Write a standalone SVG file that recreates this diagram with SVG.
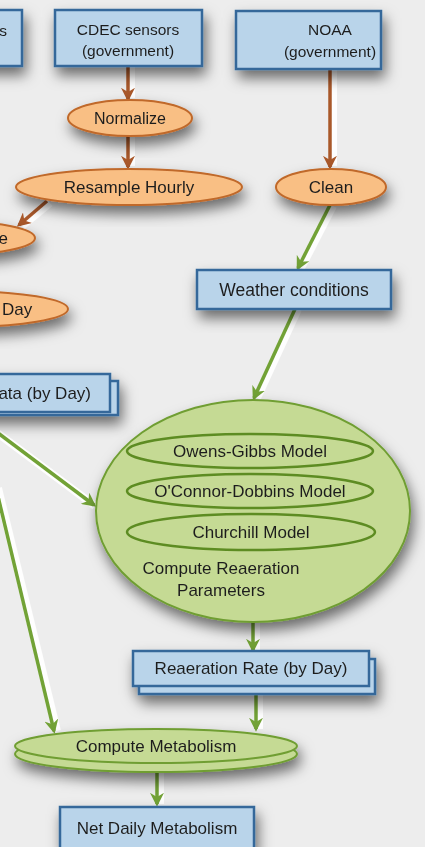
<svg xmlns="http://www.w3.org/2000/svg" width="425" height="847" viewBox="0 0 425 847">
  <defs>
    <filter id="shadow" x="-30%" y="-30%" width="160%" height="190%">
      <feDropShadow dx="3" dy="8" stdDeviation="7" flood-color="#000" flood-opacity="0.55"/>
    </filter>
    <marker id="headBrown" viewBox="0 0 10 10" refX="8" refY="5" markerWidth="4" markerHeight="4" orient="auto" markerUnits="strokeWidth">
      <path d="M0,0 L10,5 L0,10 L3,5 Z" fill="#a9582a"/>
    </marker>
    <marker id="headGreen" viewBox="0 0 10 10" refX="8" refY="5" markerWidth="4" markerHeight="4" orient="auto" markerUnits="strokeWidth">
      <path d="M0,0 L10,5 L0,10 L3,5 Z" fill="#72a236"/>
    </marker>
  </defs>
  <style>
    .box { fill: #b9d4ea; stroke: #35679a; stroke-width: 2.5; }
    .proc { fill: #f9bf84; stroke: #c0692a; stroke-width: 2; }
    .model { fill: #c5da94; stroke: #6f9e33; stroke-width: 2; }
    .inner { fill: #c5da94; stroke: #5d8c22; stroke-width: 2.5; }
    .halo { stroke: #ffffff; stroke-width: 8; stroke-opacity: 0.9; fill: none; }
    .brown { stroke: #a9582a; stroke-width: 3.5; fill: none; marker-end: url(#headBrown); }
    .green { stroke: #72a236; stroke-width: 3.5; fill: none; marker-end: url(#headGreen); }
    text { font-family: "Liberation Sans", Arial, sans-serif; font-size: 17px; fill: #1f1f1f; text-anchor: middle; }
    .sm { font-size: 15.5px; }
    .end { text-anchor: end; }
    .start { text-anchor: start; }
  </style>

  <rect width="425" height="847" fill="#ededed"/>

  <!-- connectors -->
  <g id="connectors">
    <!-- white halos beside each arrow -->
    <line class="halo" x1="131" y1="66" x2="131" y2="98"/>
    <line class="halo" x1="131" y1="136" x2="131" y2="166"/>
    <line class="halo" x1="333" y1="69" x2="333" y2="166"/>
    <line class="halo" x1="50" y1="203" x2="22" y2="226"/>
    <line class="halo" x1="333" y1="206" x2="301" y2="268"/>
    <line class="halo" x1="298" y1="309" x2="257" y2="398"/>
    <line class="halo" x1="-4" y1="432" x2="95" y2="506"/>
    <line class="halo" x1="-2" y1="488" x2="57" y2="731"/>
    <line class="halo" x1="256" y1="622" x2="256" y2="650"/>
    <line class="halo" x1="259" y1="694" x2="259" y2="729"/>
    <line class="halo" x1="160" y1="772" x2="160" y2="804"/>
    <!-- arrows -->
    <line class="brown" x1="128" y1="66" x2="128" y2="99"/>
    <line class="brown" x1="128" y1="136" x2="128" y2="167"/>
    <line class="brown" x1="330" y1="69" x2="330" y2="167"/>
    <line class="brown" x1="47" y1="201" x2="19" y2="225"/>
    <line class="green" x1="330" y1="205" x2="298" y2="268"/>
    <line class="green" x1="295" y1="309" x2="254" y2="398"/>
    <line class="green" x1="-6" y1="430" x2="94" y2="505"/>
    <line class="green" x1="-4" y1="488" x2="54" y2="731"/>
    <line class="green" x1="253" y1="621" x2="253" y2="650"/>
    <line class="green" x1="256" y1="694" x2="256" y2="729"/>
    <line class="green" x1="157" y1="772" x2="157" y2="804"/>
  </g>

  <!-- sources -->
  <g id="left-source" filter="url(#shadow)">
    <rect class="box" x="-60" y="10" width="82" height="56"/>
    <text x="7" y="36" class="sm end">s</text>
  </g>
  <g id="cdec" filter="url(#shadow)">
    <rect class="box" x="55" y="10" width="147" height="56"/>
    <text x="128" y="35" class="sm">CDEC sensors</text>
    <text x="128" y="56" class="sm">(government)</text>
  </g>
  <g id="noaa" filter="url(#shadow)">
    <rect class="box" x="236" y="11" width="145" height="58"/>
    <text x="330" y="35" class="sm">NOAA</text>
    <text x="330" y="57" class="sm">(government)</text>
  </g>

  <!-- processing steps -->
  <g id="normalize" filter="url(#shadow)">
    <ellipse class="proc" cx="130" cy="118" rx="62" ry="18"/>
    <text x="130" y="124" style="font-size:16px">Normalize</text>
  </g>
  <g id="resample" filter="url(#shadow)">
    <ellipse class="proc" cx="129" cy="187" rx="113" ry="18"/>
    <text x="129" y="193">Resample Hourly</text>
  </g>
  <g id="aggregate" filter="url(#shadow)">
    <ellipse class="proc" cx="-50" cy="238" rx="85" ry="17"/>
    <text x="8" y="244" class="end">e</text>
  </g>
  <g id="by-day" filter="url(#shadow)">
    <ellipse class="proc" cx="-40" cy="309" rx="108" ry="18"/>
    <text x="2" y="315" class="start">Day</text>
  </g>
  <g id="clean" filter="url(#shadow)">
    <ellipse class="proc" cx="331" cy="187" rx="55" ry="18"/>
    <text x="331" y="193">Clean</text>
  </g>

  <!-- data sets -->
  <g id="sensor-data" filter="url(#shadow)">
    <rect class="box" x="-60" y="381" width="178" height="34"/>
    <rect class="box" x="-66" y="374" width="176" height="38"/>
    <text x="91" y="399" class="end">ata (by Day)</text>
  </g>
  <g id="weather" filter="url(#shadow)">
    <rect class="box" x="197" y="270" width="194" height="39"/>
    <text x="294" y="296" style="font-size:17.5px">Weather conditions</text>
  </g>

  <!-- reaeration models -->
  <g id="reaeration" filter="url(#shadow)">
    <ellipse class="model" cx="253" cy="511" rx="157" ry="111"/>
    <ellipse class="inner" cx="250" cy="451" rx="123" ry="17"/>
    <ellipse class="inner" cx="250" cy="491" rx="123" ry="17"/>
    <ellipse class="inner" cx="251" cy="532" rx="124" ry="18"/>
    <text x="250" y="457">Owens-Gibbs Model</text>
    <text x="250" y="497">O'Connor-Dobbins Model</text>
    <text x="251" y="538">Churchill Model</text>
    <text x="221" y="574">Compute Reaeration</text>
    <text x="221" y="596">Parameters</text>
  </g>

  <g id="reaeration-rate" filter="url(#shadow)">
    <rect class="box" x="139" y="659" width="236" height="35"/>
    <rect class="box" x="133" y="651" width="236" height="35"/>
    <text x="251" y="674">Reaeration Rate (by Day)</text>
  </g>

  <g id="metabolism" filter="url(#shadow)">
    <ellipse class="model" cx="156" cy="754" rx="141" ry="18"/>
    <ellipse class="model" cx="156" cy="746" rx="141" ry="17"/>
    <text x="156" y="752">Compute Metabolism</text>
  </g>

  <g id="net-metabolism" filter="url(#shadow)">
    <rect class="box" x="60" y="807" width="194" height="42"/>
    <text x="157" y="834">Net Daily Metabolism</text>
  </g>
</svg>
